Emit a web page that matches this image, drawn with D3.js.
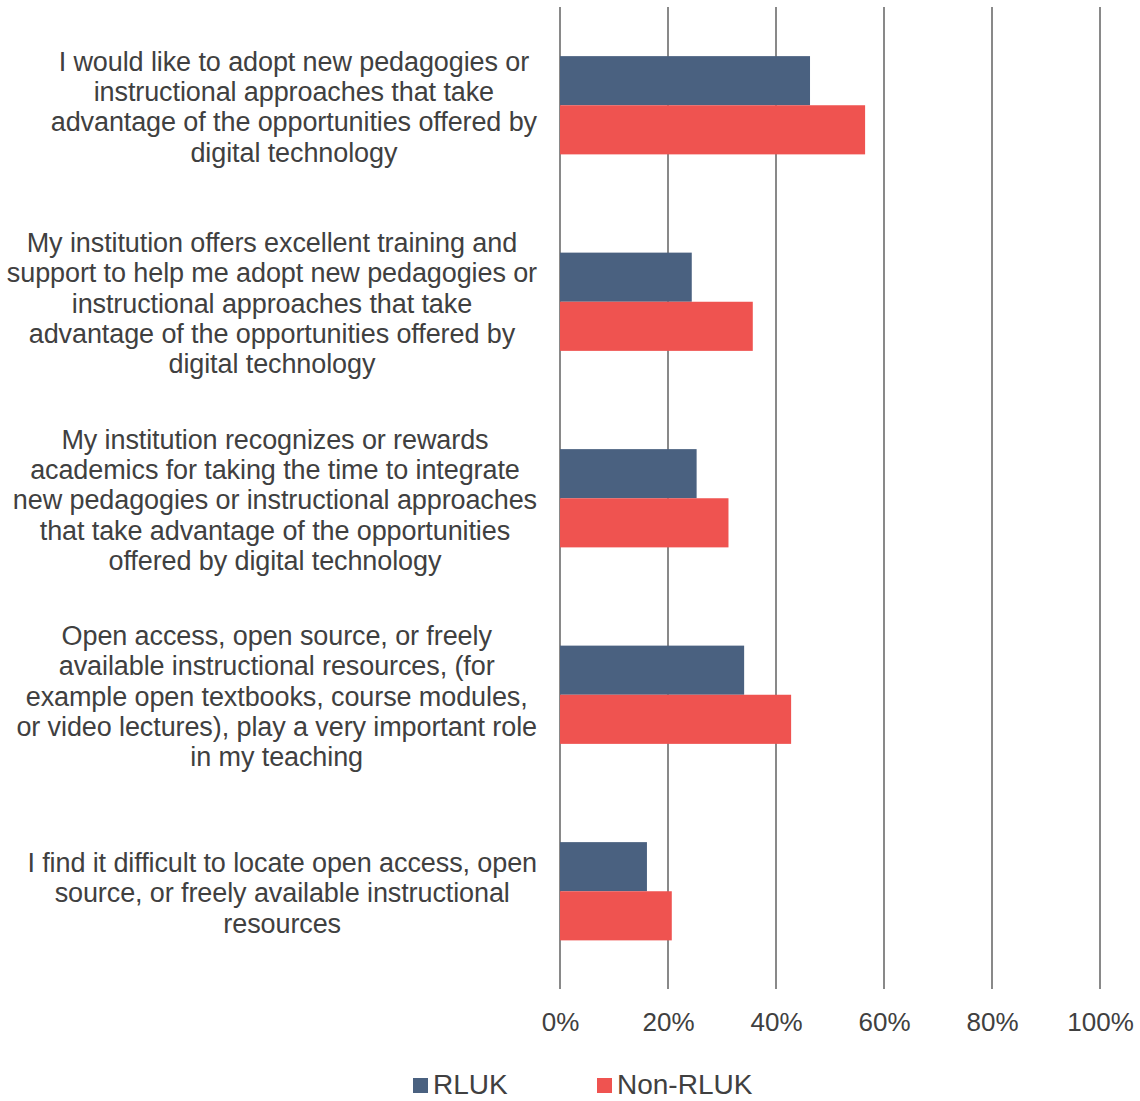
<!DOCTYPE html>
<html><head><meta charset="utf-8">
<script src="https://cdn.jsdelivr.net/npm/d3@7/dist/d3.min.js"></script>
<style>body{margin:0;background:#fff}svg text{font-family:"Liberation Sans",Arial,sans-serif;fill:#404040}</style>
</head><body>
<script>
const categories = [
  "I would like to adopt new pedagogies or|instructional approaches that take|advantage of the opportunities offered by|digital technology",
  "My institution offers excellent training and|support to help me adopt new pedagogies or|instructional approaches that take|advantage of the opportunities offered by|digital technology",
  "My institution recognizes or rewards|academics for taking the time to integrate|new pedagogies or instructional approaches|that take advantage of the opportunities|offered by digital technology",
  "Open access, open source, or freely|available instructional resources, (for|example open textbooks, course modules,|or video lectures), play a very important role|in my teaching",
  "I find it difficult to locate open access, open|source, or freely available instructional|resources"
];
const seriesNames = ["RLUK", "Non-RLUK"];
const rluk = [46.3, 24.4, 25.3, 34.1, 16.1];
const nonRluk = [56.5, 35.7, 31.2, 42.8, 20.7];
const ticks = [0, 20, 40, 60, 80, 100];
const colors = ["#4a6180", "#ef5350"];

const W = 1140, H = 1101;
const svg = d3.select("body").append("svg").attr("width", W).attr("height", H).style("display", "block");
const x = d3.scaleLinear().domain([0, 100]).range([560, 1100]);
const y = d3.scaleBand().domain(d3.range(categories.length)).range([7, 989.5]).paddingInner(0.5).paddingOuter(0.25);
const ySub = d3.scaleBand().domain([0, 1]).range([0, y.bandwidth()]);

// gridlines
svg.append("g").selectAll("line").data(ticks).join("line")
  .attr("x1", d => x(d)).attr("x2", d => x(d))
  .attr("y1", 7).attr("y2", 989)
  .attr("stroke", "#898989").attr("stroke-width", 2);

// bars
const series = [rluk, nonRluk];
series.forEach((vals, si) => {
  svg.append("g").selectAll("rect").data(vals).join("rect")
    .attr("x", x(0)).attr("y", (d, i) => y(i) + ySub(si))
    .attr("width", d => x(d) - x(0)).attr("height", ySub.bandwidth())
    .attr("fill", colors[si]);
});

// category labels: block right-aligned at 537, lines centered in block
const lh = 30.3;
categories.forEach((c, i) => {
  const lines = c.split("|");
  const g = svg.append("g");
  const cy = y(i) + y.bandwidth() / 2;
  const texts = lines.map((ln, k) => g.append("text")
    .attr("font-size", 27).attr("letter-spacing", -0.1)
    .attr("text-anchor", "middle")
    .attr("y", cy + (k - (lines.length - 1) / 2) * lh + 11)
    .text(ln));
  const maxW = d3.max(texts, t => t.node().getComputedTextLength());
  const cx = 537 - maxW / 2;
  texts.forEach(t => t.attr("x", cx));
});

// axis tick labels
const ax = svg.append("g").attr("transform", "translate(0,989)")
  .call(d3.axisBottom(x).tickValues(ticks).tickFormat(d => d + "%").tickSize(0).tickPadding(24));
ax.select(".domain").remove();
ax.selectAll("text").attr("font-size", 26).attr("font-family", "Liberation Sans, Arial, sans-serif").attr("fill", "#404040");

// legend
const legX = [413, 597];
seriesNames.forEach((n, i) => {
  svg.append("rect").attr("x", legX[i]).attr("y", 1078).attr("width", 15).attr("height", 15).attr("fill", colors[i]);
  svg.append("text").attr("x", legX[i] + 20).attr("y", 1094).attr("font-size", 28).text(n);
});
</script>
</body></html>
